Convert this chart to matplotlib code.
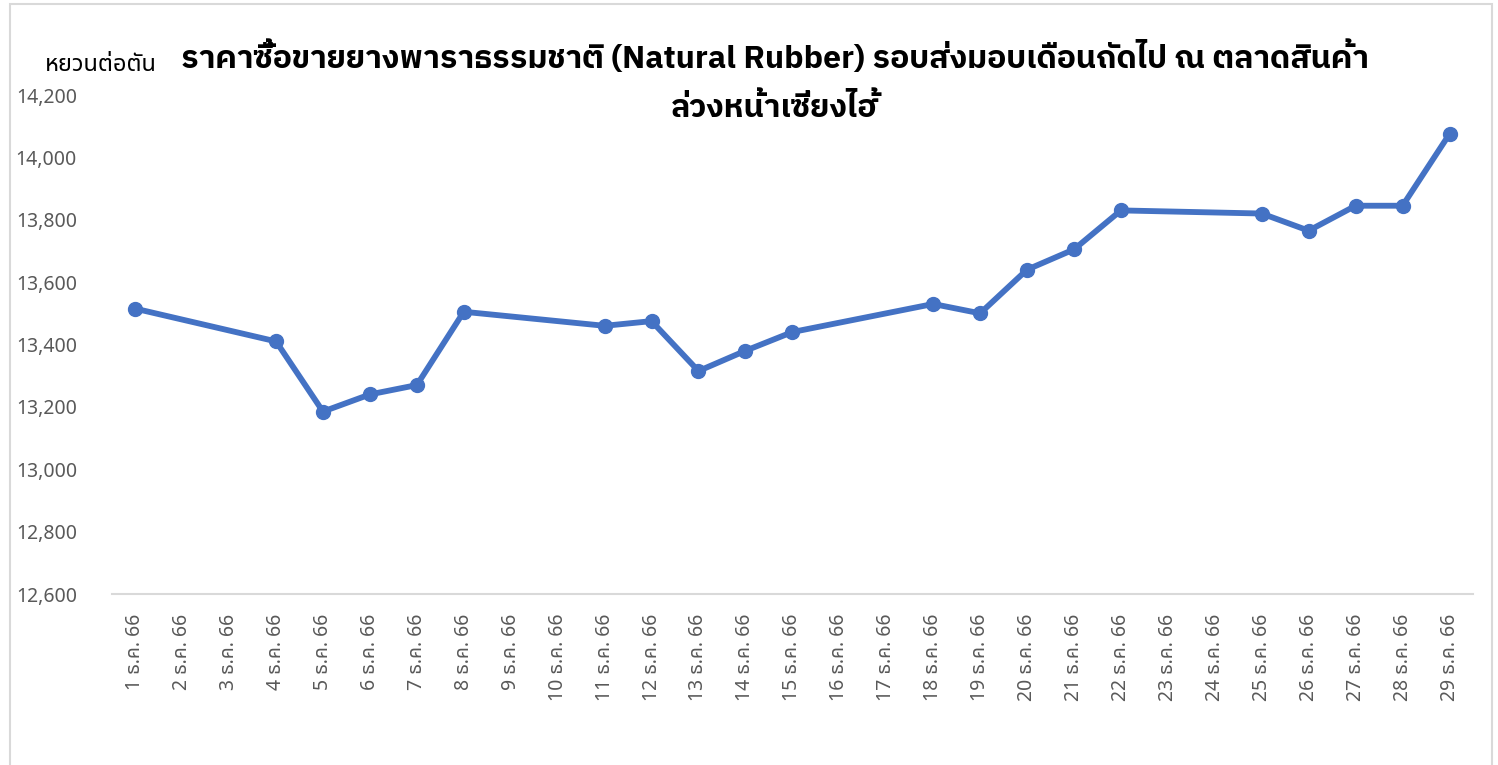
import matplotlib
matplotlib.use("Agg")
import matplotlib.pyplot as plt
from matplotlib.patches import Rectangle

plt.rcParams['font.family'] = ['Noto Sans Thai', 'Noto Sans', 'DejaVu Sans']

days = list(range(1, 30))
labels = [f"{d} ธ.ค. 66" for d in days]
price_days = [1, 4, 5, 6, 7, 8, 11, 12, 13, 14, 15, 18, 19, 20, 21, 22, 25, 26, 27, 28, 29]
prices = [13515, 13410, 13185, 13240, 13270, 13505, 13460, 13475, 13315, 13380,
          13440, 13530, 13500, 13640, 13705, 13830, 13820, 13765, 13845, 13845, 14075]
yticks = [12600, 12800, 13000, 13200, 13400, 13600, 13800, 14000, 14200]

title1 = "ราคาซื้อขายยางพาราธรรมชาติ (Natural Rubber) รอบส่งมอบเดือนถัดไป ณ ตลาดสินค้า"
title2 = "ล่วงหน้าเซี่ยงไฮ้"
unit = "หยวนต่อตัน"
title_font = ['IBM Plex Sans Thai', 'Noto Sans Thai', 'DejaVu Sans']

fig = plt.figure(figsize=(14.98, 7.65), dpi=100)
# light grey chart-area frame (bottom edge runs off the image)
fig.patches.append(Rectangle((10 / 1498, -0.05), 1482 / 1498, 1.05 - 4 / 765,
                             transform=fig.transFigure, fill=False,
                             edgecolor="#D9D9D9", lw=1.5))

ax = fig.add_axes([0.0746, 0.2235, 0.9087, 0.6523])
ax.plot(price_days, prices, color="#4472C4", lw=4.2, marker="o", ms=10)
ax.set_xlim(0.5, 29.5)
ax.set_ylim(12600, 14200)
ax.set_xticks(days)
ax.set_xticklabels(labels, rotation=90, fontsize=14, color="#595959")
ax.set_yticks(yticks)
ax.set_yticklabels([f"{v:,}" for v in yticks], fontsize=14, color="#595959")
ax.tick_params(axis="y", length=0, pad=25)
ax.tick_params(axis="x", length=0, pad=14)
for s in ["top", "right", "left"]:
    ax.spines[s].set_visible(False)
ax.spines["bottom"].set_color("#D9D9D9")
ax.spines["bottom"].set_linewidth(1.5)

fig.text(775 / 1498, 1 - 57 / 765, title1, ha="center", va="center",
         fontsize=23, fontweight="bold", family=title_font)
fig.text(775 / 1498, 1 - 108 / 765, title2, ha="center", va="center",
         fontsize=23, fontweight="bold", family=title_font)
fig.text(45 / 1498, 1 - 65 / 765, unit, ha="left", va="center", fontsize=17)

fig.savefig("out.png", dpi=100)
